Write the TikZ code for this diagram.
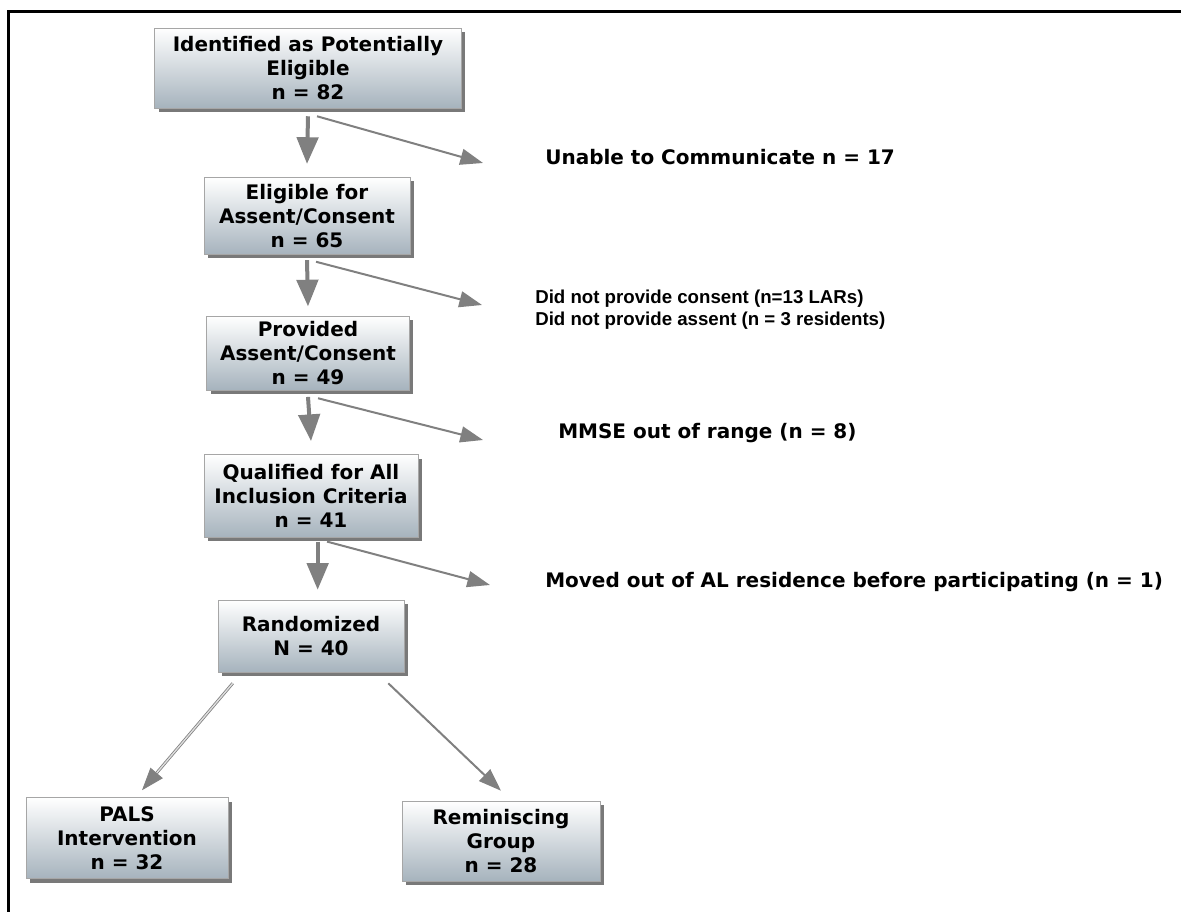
\documentclass[tikz,border=0pt]{standalone}
\usepackage{fontspec}
\setmainfont{DejaVu Sans}
\newfontfamily\narrowfont{Liberation Sans}
\usepackage{tikz}
\usetikzlibrary{arrows.meta,shadows}

\definecolor{boxbot}{RGB}{166,179,189}
\definecolor{arrgray}{RGB}{128,128,128}

\begin{document}
\begin{tikzpicture}[x=0.75pt, y=-0.75pt,
  box/.style={draw=gray!70, align=center, inner sep=1pt, top color=white, bottom color=boxbot,
    drop shadow={shadow xshift=3pt, shadow yshift=-3pt, fill=black!75, opacity=.7},
    font=\bfseries\fontsize{15}{18}\selectfont},
  lbl/.style={anchor=west, inner sep=0pt, font=\bfseries\fontsize{15}{18}\selectfont},
  lbltwo/.style={anchor=west, inner sep=0pt, align=left, font=\narrowfont\bfseries\fontsize{14}{16.5}\selectfont},
  varrow/.style={draw=arrgray, line width=3pt, -{Triangle[length=20pt, width=16pt, fill=arrgray]}},
  darrow/.style={draw=arrgray, line width=1.5pt, -{Triangle[length=17pt, width=12pt, fill=arrgray]}}]

\useasboundingbox (0,0) rectangle (1181,912);
\draw[line width=2.25pt] (8,912) -- (8,12) -- (1181,12);

\node[box, minimum width=230pt, minimum height=60pt] (ident) at (308,68) {Identified as Potentially\\Eligible\\n = 82};
\node[box, minimum width=154.5pt, minimum height=57.75pt] (elig) at (307,216) {Eligible for\\Assent/Consent\\n = 65};
\node[box, minimum width=152pt, minimum height=55.5pt] (prov) at (308,353) {Provided\\Assent/Consent\\n = 49};
\node[box, minimum width=160.5pt, minimum height=62pt] (qual) at (311,496) {Qualified for All\\Inclusion Criteria\\n = 41};
\node[box, minimum width=139.5pt, minimum height=54pt] (rand) at (311,636) {Randomized\\N = 40};
\node[box, minimum width=151.5pt, minimum height=60.75pt] (pals) at (127,838) {PALS\\Intervention\\n = 32};
\node[box, minimum width=148.5pt, minimum height=60pt] (remi) at (501,841) {Reminiscing\\Group\\n = 28};

\node[lbl] (unable) at (545,157) {Unable to Communicate n = 17};
\node[lbltwo] (refuse) at (535,310) {Did not provide consent (n=13 LARs)\\Did not provide assent (n = 3 residents)};
\node[lbl] (mmse) at (558,433) {MMSE out of range (n = 8)};
\node[lbl] (moved) at (545,582) {Moved out of AL residence before participating (n = 1)};

% down the main column
\draw[varrow] ([yshift=-6pt]ident.south) -- ([yshift=10pt]elig.north);
\draw[varrow] ([yshift=-4pt]elig.south) -- ([yshift=7pt]prov.north);
\draw[varrow] ([yshift=-5pt]prov.south) -- ([yshift=10pt]qual.north);
\draw[varrow] ([xshift=5pt,yshift=-3pt]qual.south) -- ([xshift=5pt,yshift=7.5pt]rand.north);

% exclusions
\draw[darrow] ([xshift=6.75pt,yshift=-6pt]ident.south) -- ([xshift=-46.5pt,yshift=-4.5pt]unable.west);
\draw[darrow] ([xshift=6.75pt,yshift=-5.25pt]elig.south) -- ([xshift=-39.75pt,yshift=3.75pt]refuse.west);
\draw[darrow] ([xshift=7.5pt,yshift=-6pt]prov.south) -- ([xshift=-56.25pt,yshift=-5.25pt]mmse.west);
\draw[darrow] ([xshift=12pt,yshift=-3pt]qual.south) -- ([xshift=-41.25pt,yshift=-2.25pt]moved.west);

% the two groups
\draw[darrow, double=gray!25, double distance=1pt, line width=0.6pt] ([xshift=11.25pt,yshift=-8.25pt]rand.south west) -- ([xshift=11.25pt,yshift=5.25pt]pals.north);
\draw[darrow] ([xshift=-12pt,yshift=-8.25pt]rand.south east) -- ([yshift=7.5pt]remi.north);

\end{tikzpicture}
\end{document}
